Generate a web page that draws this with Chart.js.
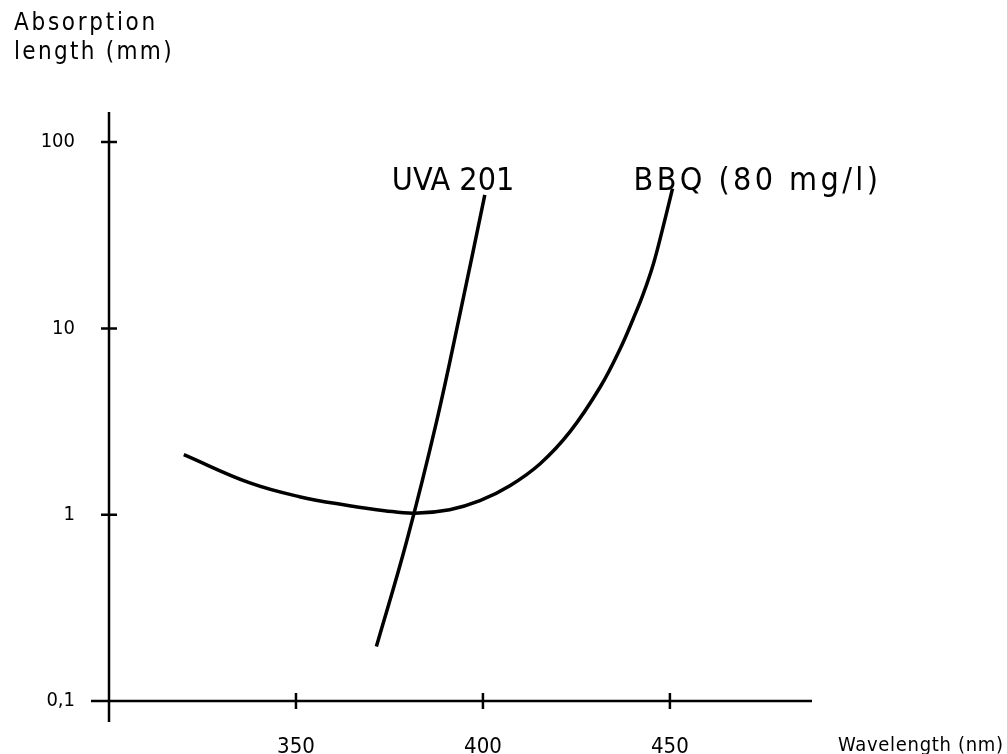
<!DOCTYPE html>
<html>
<head>
<meta charset="utf-8">
<title>Absorption length</title>
<script src="https://cdn.jsdelivr.net/npm/chart.js@4.4.1/dist/chart.umd.min.js"></script>
<style>
  html, body { margin: 0; padding: 0; background: #fff; overflow: hidden; }
  #wrap { position: relative; width: 1007px; height: 754px; }
</style>
</head>
<body>
<div id="wrap"><canvas id="absChart"></canvas></div>
<script>
// wavelength (nm) / absorption length (mm)
const uvaWavelength = [371.5, 379.6, 387.6, 394.1, 400.5];
const uvaLength = [0.196, 0.72, 3.16, 12.6, 52];

const bbqWavelength = [320.0, 337.5, 350.9, 364.3, 373.7, 381.7, 391.1, 399.2, 407.2,
                       415.3, 423.3, 431.4, 436.7, 440.2, 442.9, 445.6, 448.0, 450.7];
const bbqLength = [2.10, 1.485, 1.249, 1.118, 1.051, 1.019, 1.064, 1.189, 1.431,
                   1.878, 2.79, 4.86, 7.78, 11.27, 15.36, 22.25, 33.9, 56.2];

const seriesNames = ['UVA 201', 'BBQ (80 mg/l)'];

const xTicks = [350, 400, 450];
const yTicks = [0.1, 1, 10, 100];
const yTickLabels = ['0,1', '1', '10', '100'];

const titleLines = ['Absorption', 'length (mm)'];
const xTitle = 'Wavelength (nm)';

const FONT = '"DejaVu Sans Condensed", "Liberation Sans Narrow", "DejaVu Sans", sans-serif';

const toPoints = (xs, ys) => xs.map((x, i) => ({ x: x, y: ys[i] }));

// axis lines with cross ticks, both axes run a little past the origin
const axisCross = {
    id: 'axisCross',
    beforeDatasetsDraw(chart) {
        const { ctx, chartArea: a, scales: { x, y } } = chart;
        ctx.save();
        ctx.strokeStyle = '#000';
        ctx.lineWidth = 2.5;
        ctx.beginPath();
        ctx.moveTo(a.left - 18, a.bottom);
        ctx.lineTo(a.right, a.bottom);
        ctx.moveTo(a.left, a.top);
        ctx.lineTo(a.left, a.bottom + 21);
        xTicks.forEach(v => {
            const px = x.getPixelForValue(v);
            ctx.moveTo(px, a.bottom - 8);
            ctx.lineTo(px, a.bottom + 8);
        });
        yTicks.slice(1).forEach(v => {
            const py = y.getPixelForValue(v);
            ctx.moveTo(a.left - 8, py);
            ctx.lineTo(a.left + 8, py);
        });
        ctx.stroke();
        ctx.restore();
    }
};

// axis titles and the curve names
const labels = {
    id: 'labels',
    afterDraw(chart) {
        const { ctx, chartArea: a } = chart;
        ctx.save();
        ctx.fillStyle = '#000';
        ctx.textBaseline = 'alphabetic';
        ctx.textAlign = 'left';

        ctx.font = '24px ' + FONT;
        ctx.letterSpacing = '2.7px';
        ctx.fillText(titleLines[0], 14, 30);
        ctx.letterSpacing = '2.3px';
        ctx.fillText(titleLines[1], 14, 59);

        ctx.font = '20px ' + FONT;
        ctx.letterSpacing = '0.7px';
        ctx.textBaseline = 'middle';
        ctx.fillText(xTitle, a.right + 26, a.bottom + 45);

        ctx.textBaseline = 'alphabetic';
        ctx.font = '32px ' + FONT;
        const uvaEnd = chart.getDatasetMeta(0).data.at(-1);
        const bbqEnd = chart.getDatasetMeta(1).data.at(-1);
        ctx.letterSpacing = '0px';
        ctx.fillText(seriesNames[0], uvaEnd.x - 93, uvaEnd.y - 5);
        ctx.letterSpacing = '3.4px';
        ctx.fillText(seriesNames[1], bbqEnd.x - 39, bbqEnd.y + 1);
        ctx.restore();
    }
};

const ctx = document.getElementById('absChart');
new Chart(ctx, {
    type: 'line',
    data: {
        datasets: [
            {
                label: seriesNames[0],
                data: toPoints(uvaWavelength, uvaLength),
                borderColor: '#000',
                borderWidth: 3.5,
                pointRadius: 0,
                tension: 0.4
            },
            {
                label: seriesNames[1],
                data: toPoints(bbqWavelength, bbqLength),
                borderColor: '#000',
                borderWidth: 3.5,
                pointRadius: 0,
                tension: 0.4
            }
        ]
    },
    options: {
        responsive: true,
        maintainAspectRatio: false,
        animation: false,
        layout: { padding: { top: 112, left: 14, right: 195, bottom: 0 } },
        scales: {
            x: {
                type: 'linear',
                min: 300,
                max: 488,
                afterBuildTicks: axis => { axis.ticks = xTicks.map(v => ({ value: v })); },
                afterFit: axis => { axis.height = 53; },
                grid: { display: false, drawTicks: false },
                border: { display: false },
                ticks: {
                    color: '#000',
                    padding: 33,
                    font: { family: FONT, size: 22 }
                }
            },
            y: {
                type: 'logarithmic',
                min: 0.1,
                max: 145,
                afterBuildTicks: axis => { axis.ticks = yTicks.map(v => ({ value: v })); },
                afterFit: axis => { axis.width = 95; },
                grid: { display: false, drawTicks: false },
                border: { display: false },
                ticks: {
                    color: '#000',
                    padding: 34,
                    font: { family: FONT, size: 20 },
                    callback: (value, index) => yTickLabels[index]
                }
            }
        },
        plugins: {
            legend: { display: false },
            tooltip: { enabled: false }
        }
    },
    plugins: [axisCross, labels]
});
</script>
</body>
</html>
